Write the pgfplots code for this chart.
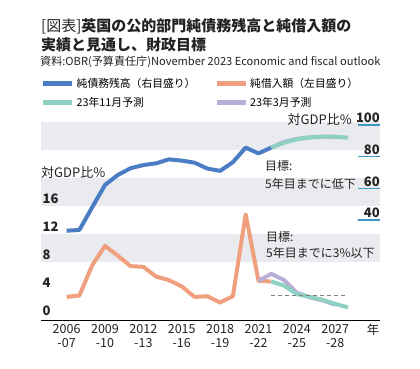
\documentclass[border=0pt]{standalone}
\usepackage{fontspec}
\setmainfont{Noto Sans CJK JP}
\usepackage{pgfplots}
\pgfplotsset{compat=1.18}
\definecolor{cblue}{HTML}{4A7DC4}
\definecolor{corange}{HTML}{F0A07E}
\definecolor{cteal}{HTML}{8ED0C2}
\definecolor{cpurple}{HTML}{B8AED8}
\definecolor{cband}{HTML}{E9EBEE}
\definecolor{ctick}{HTML}{3E98C6}
\definecolor{ctext}{HTML}{222222}
\newcommand{\lgf}{\fontsize{10.8}{13}\selectfont}
\begin{document}
\begin{tikzpicture}[x=1pt,y=1pt]
\useasboundingbox (0,0) rectangle (420,368);
% titles
\node[anchor=west,inner sep=0pt,text=ctext] at (41,341.3) {\fontsize{15}{18}\selectfont [図表]\bfseries 英国の公的部門純債務残高と純借入額の};
\node[anchor=west,inner sep=0pt,text=ctext] at (41,323) {\fontsize{15}{18}\selectfont\bfseries 実績と見通し、財政目標};
\node[anchor=west,inner sep=0pt,text=ctext] at (40,306) {\fontsize{11.1}{13}\selectfont 資料:OBR(予算責任庁)November 2023 Economic and fiscal outlook};
% background bands
\begin{axis}[
  at={(41pt,48pt)}, anchor=south west, scale only axis,
  width=339pt, height=198pt,
  xmin=2004, xmax=2030.5, ymin=-0.3, ymax=28,
  hide axis, clip=false,
]
\fill[cband] (axis cs:2004,8) rectangle (axis cs:2030.5,12);
\fill[cband] (axis cs:2004,16) rectangle (axis cs:2030.5,20);
\fill[cband] (axis cs:2004,24) rectangle (axis cs:2030.5,28);
\end{axis}
% left axis
\begin{axis}[
  at={(41pt,48pt)}, anchor=south west, scale only axis,
  width=339pt, height=198pt,
  xmin=2004, xmax=2030.5, ymin=-0.3, ymax=28,
  axis x line*=bottom, axis y line*=left,
  x axis line style={-, line width=1pt, black},
  y axis line style={draw=none},
  xtick={2006,2009,2012,2015,2018,2021,2024,2027},
  xticklabels={{2006\\-07},{2009\\-10},{2012\\-13},{2015\\-16},{2018\\-19},{2021\\-22},{2024\\-25},{2027\\-28}},
  xticklabel style={align=center, anchor=north, inner sep=0pt, yshift=-4pt, font=\fontsize{12.5}{14.3}\selectfont, text=ctext},
  xtick style={draw=none},
  ytick={0,4,8,12,16},
  yticklabels={0,4,8,12,16},
  yticklabel style={anchor=south west, inner sep=0pt, xshift=1.5pt, yshift=2.5pt, font=\fontsize{13}{13}\selectfont\bfseries, text=ctext},
  ytick style={draw=none},
  clip=false,
  legend columns=2,
  legend cell align=left,
  legend style={at={(0,1.231)}, anchor=north west, draw=none, fill=none, inner sep=0pt, outer sep=0pt,
    row sep=4.5pt,
    /tikz/every even column/.append style={column sep=17pt}},
  legend image code/.code={\draw[#1, line width=4.7pt] (0pt,0pt) -- (29pt,0pt);},
]
\addlegendimage{cblue}\addlegendentry{\lgf 純債務残高（右目盛り）}
\addlegendimage{corange}\addlegendentry{\lgf 純借入額（左目盛り）}
\addlegendimage{cteal}\addlegendentry{\lgf 23年11月予測}
\addlegendimage{cpurple}\addlegendentry{\lgf 23年3月予測}
\addplot[forget plot, corange, line width=4pt, line join=round] coordinates {
(2006,3.0) (2007,3.2) (2008,7.5) (2009,10.3) (2010,8.9) (2011,7.4) (2012,7.3) (2013,5.9) (2014,5.4) (2015,4.5) (2016,3.0) (2017,3.1) (2018,2.2) (2019,3.1) (2020,14.8) (2021,5.3) (2022,5.2)};
\addplot[forget plot, cpurple, line width=4pt, line join=round] coordinates {
(2021,5.3) (2022,6.3) (2023,5.4) (2024,3.6) (2025,2.95) (2026,2.5) (2027,1.9)};
\addplot[forget plot, cteal, line width=4pt, line join=round] coordinates {
(2022,5.2) (2023,4.6) (2024,3.4) (2025,3.0) (2026,2.6) (2027,2.0) (2028,1.5)};
\addplot[forget plot, color={rgb,255:red,128;green,128;blue,128}, line width=1.2pt, dash pattern=on 4pt off 3pt] coordinates {(2022,3.2) (2028,3.2)};
\end{axis}
% right axis
\begin{axis}[
  at={(41pt,48pt)}, anchor=south west, scale only axis,
  width=339pt, height=198pt,
  xmin=2004, xmax=2030.5, ymin=-23.2, ymax=101.9,
  axis x line=none, axis y line*=right,
  y axis line style={draw=none},
  ytick={40,60,80,100}, yticklabels={40,60,80,100},
  tick align=inside, major tick length=22pt,
  ytick style={color=ctick, line width=1.2pt},
  yticklabel style={anchor=south east, inner sep=0pt, yshift=1.8pt, font=\fontsize{13}{13}\selectfont\bfseries, text=ctext},
  clip=false,
]
\addplot[cblue, line width=4pt, line join=round] coordinates {
(2006,33.2) (2007,33.7) (2008,48.0) (2009,62.1) (2010,68.4) (2011,72.7) (2012,74.7) (2013,75.8) (2014,78.3) (2015,77.5) (2016,76.2) (2017,72.5) (2018,71.0) (2019,76.5) (2020,85.7) (2021,82.1) (2022,85.7)};
\addplot[cpurple, line width=4pt, line join=round] coordinates {
(2022,85.7) (2023,89.4) (2024,91.2) (2025,92.2) (2026,92.5) (2027,92.4)};
\addplot[cteal, line width=4pt, line join=round] coordinates {
(2022,85.7) (2023,88.8) (2024,91.0) (2025,92.2) (2026,92.6) (2027,92.6) (2028,92.0)};
\end{axis}
% axis titles and notes
\node[anchor=west,inner sep=0pt,text=ctext] at (41,195.7) {\fontsize{13}{14}\selectfont 対GDP比\%};
\node[anchor=east,inner sep=0pt,text=ctext] at (352,248) {\fontsize{13}{14}\selectfont 対GDP比\%};
\node[anchor=west,inner sep=0pt,text=ctext] at (265,202) {\fontsize{12}{13}\selectfont 目標:};
\node[anchor=west,inner sep=0pt,text=ctext] at (265,184) {\fontsize{12}{13}\selectfont 5年目までに低下};
\node[anchor=west,inner sep=0pt,text=ctext] at (266,130.7) {\fontsize{12}{13}\selectfont 目標:};
\node[anchor=west,inner sep=0pt,text=ctext] at (266,114.7) {\fontsize{12}{13}\selectfont 5年目までに3\%以下};
\node[inner sep=0pt,text=ctext] at (373,38) {\fontsize{12.5}{14}\selectfont 年};
\end{tikzpicture}
\end{document}
